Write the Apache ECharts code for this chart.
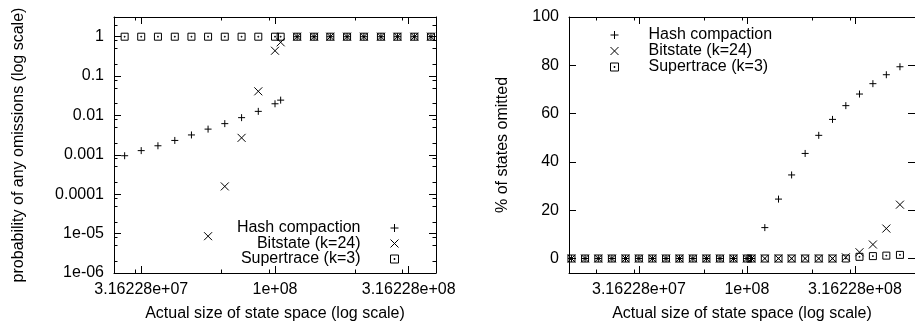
<!DOCTYPE html>
<html>
<head>
<meta charset="utf-8">
<script src="https://cdn.jsdelivr.net/npm/echarts@6/dist/echarts.min.js"></script>
<style>
  html, body { margin: 0; padding: 0; background: #fff; }
  #chart { width: 915px; height: 327px; }
</style>
</head>
<body>
<div id="chart"></div>
<script>
// state space sizes
const sizesLeft = [2.74e7, 3.16e7, 3.65e7, 4.22e7, 4.87e7, 5.62e7, 6.49e7, 7.50e7, 8.66e7, 1.0e8,
  1.05e8, 1.21e8, 1.40e8, 1.61e8, 1.86e8, 2.15e8, 2.49e8, 2.87e8, 3.32e8, 3.83e8];
// probability of any omissions (null = zero, not drawn on log scale)
const probHash = [0.00095, 0.00128, 0.0017, 0.00232, 0.0032, 0.0045, 0.0062, 0.0088, 0.0127, 0.0198,
  0.0245, 1, 1, 1, 1, 1, 1, 1, 1, 1];
const probBit = [null, null, null, null, null, 8.6e-6, 1.58e-4, 0.0027, 0.041, 0.44,
  0.72, 1, 1, 1, 1, 1, 1, 1, 1, 1];
const probSuper = [1, 1, 1, 1, 1, 1, 1, 1, 1, 1, 1, 1, 1, 1, 1, 1, 1, 1, 1, 1];

// state space sizes
const sizesRight = [1.54e7, 1.78e7, 2.05e7, 2.37e7, 2.74e7, 3.16e7, 3.65e7, 4.22e7, 4.87e7, 5.62e7,
  6.49e7, 7.50e7, 8.66e7, 1.0e8, 1.05e8, 1.21e8, 1.40e8, 1.61e8, 1.86e8, 2.15e8,
  2.49e8, 2.87e8, 3.32e8, 3.83e8, 4.42e8, 5.11e8];
// % of states omitted
const pctHash = [0, 0, 0, 0, 0, 0, 0, 0, 0, 0, 0, 0, 0, 0,
  0, 12.8, 24.6, 34.6, 43.5, 51.0, 57.6, 63.3, 68.1, 72.4, 76.1, 79.4];
const pctBit = [0, 0, 0, 0, 0, 0, 0, 0, 0, 0, 0, 0, 0, 0,
  0, 0, 0, 0, 0, 0, 0, 0.5, 2.6, 5.8, 12.4, 22.3];
const pctSuper = [0, 0, 0, 0, 0, 0, 0, 0, 0, 0, 0, 0, 0, 0,
  0, 0, 0, 0, 0, 0, 0, 0, 0.7, 1.0, 1.2, 1.5];

// tick values and labels
const xMajor = [31622776.6, 1e8, 316227766];
const xMajorLabels = ['3.16228e+07', '1e+08', '3.16228e+08'];
const xMinor = [2e7, 3e7, 6.32e7, 9.49e7, 2e8, 3e8];
const yLogMajor = [1e-6, 1e-5, 1e-4, 1e-3, 1e-2, 1e-1, 1];
const yLogLabels = ['1e-06', '1e-05', '0.0001', '0.001', '0.01', '0.1', '1'];
const yLogMinor = [2e-6, 5e-6, 8e-6, 2e-5, 5e-5, 8e-5, 2e-4, 5e-4, 8e-4, 2e-3, 5e-3, 8e-3,
  0.02, 0.05, 0.08, 0.2, 0.5, 0.8, 2];
const yPctMajor = [0, 20, 40, 60, 80, 100];

const names = ['Hash compaction', 'Bitstate (k=24)', 'Supertrace (k=3)'];
const FONT = 'Liberation Sans, Arial, sans-serif';
const symPlus = 'path://M0,5L10,5M5,0L5,10';
const symCross = 'path://M0,0L10,10M10,0L0,10';
const symSquare = 'path://M0,0L10,0L10,10L0,10ZM4.4,4.4L5.6,4.4L5.6,5.6L4.4,5.6Z';

function closestLabel(values, labels) {
  return function (v) {
    let best = 0;
    for (let i = 1; i < values.length; i++) {
      if (Math.abs(Math.log10(values[i] / v)) < Math.abs(Math.log10(values[best] / v))) best = i;
    }
    return labels[best];
  };
}

// one axis = major ticks, a twin = minor ticks; mirrored on the opposite side
function axisSet(dim, opt) {
  const sides = dim === 'x' ? ['bottom', 'top'] : ['left', 'right'];
  const base = {
    gridIndex: opt.grid, type: opt.type, min: opt.min, max: opt.max,
    splitLine: { show: false }, animation: false
  };
  if (opt.type === 'log') base.logBase = 10;
  const out = [];
  sides.forEach(function (side, s) {
    out.push(Object.assign({}, base, {
      position: side,
      name: s === 0 ? opt.name : '',
      nameLocation: 'middle',
      nameGap: opt.nameGap,
      nameTextStyle: { fontFamily: FONT, fontSize: 16, color: '#000' },
      axisLine: { show: true, onZero: false, lineStyle: { color: '#000', width: 1 } },
      axisTick: { show: true, inside: true, length: 7, customValues: opt.major,
        lineStyle: { color: '#000', width: 1 } },
      axisLabel: { show: s === 0, customValues: opt.major, formatter: opt.formatter,
        margin: opt.margin, fontFamily: FONT, fontSize: 16, color: '#000' }
    }));
    if (opt.minor) {
      out.push(Object.assign({}, base, {
        position: side,
        axisLine: { show: false, onZero: false },
        axisTick: { show: true, inside: true, length: 3.5, customValues: opt.minor,
          lineStyle: { color: '#000', width: 1 } },
        axisLabel: { show: false }
      }));
    }
  });
  return out;
}

function pairs(xs, ys) {
  return xs.map(function (x, i) { return [x, ys[i]]; });
}

function scatter(name, symbol, size, data, xi, yi) {
  return {
    type: 'scatter', name: name, symbol: symbol, symbolSize: size,
    xAxisIndex: xi, yAxisIndex: yi, data: data, clip: true,
    itemStyle: { color: 'none', borderColor: '#000', borderWidth: 1, opacity: 1 },
    emphasis: { disabled: true }
  };
}

const chart = echarts.init(document.getElementById('chart'));

const leftX = axisSet('x', { grid: 0, type: 'log', min: 2.5e7, max: 4e8, major: xMajor,
  minor: xMinor, formatter: closestLabel(xMajor, xMajorLabels), margin: 9,
  name: 'Actual size of state space (log scale)', nameGap: 33 });
const rightX = axisSet('x', { grid: 1, type: 'log', min: 1.5e7, max: 6e8, major: xMajor,
  minor: xMinor, formatter: closestLabel(xMajor, xMajorLabels), margin: 9,
  name: 'Actual size of state space (log scale)', nameGap: 33 });
const leftY = axisSet('y', { grid: 0, type: 'log', min: 1e-6, max: 3.1623, major: yLogMajor,
  minor: yLogMinor, formatter: closestLabel(yLogMajor, yLogLabels), margin: 10,
  name: 'probability of any omissions (log scale)', nameGap: 87 });
const rightY = axisSet('y', { grid: 1, type: 'value', min: -6, max: 100, major: yPctMajor,
  formatter: function (v) { return String(v); }, margin: 10,
  name: '% of states omitted', nameGap: 58 });

const xAxes = leftX.concat(rightX);
const yAxes = leftY.concat(rightY);
const rxi = leftX.length, ryi = leftY.length;

const legendText = { fontFamily: FONT, fontSize: 16, color: '#000', lineHeight: 16 };
const legendItem = { color: 'none', borderColor: '#000', borderWidth: 1 };

const option = {
  animation: false,
  backgroundColor: '#fff',
  textStyle: { fontFamily: FONT, color: '#000' },
  grid: [
    { left: 114, top: 17, width: 322, height: 258 },
    { left: 569, top: 17, width: 353, height: 258 }
  ],
  xAxis: xAxes,
  yAxis: yAxes,
  legend: [
    {
      orient: 'vertical', align: 'right', right: 514, top: 220, padding: 0,
      itemWidth: 58, itemHeight: 8, itemGap: -0.5, data: names,
      textStyle: legendText, itemStyle: legendItem, selectedMode: false
    },
    {
      orient: 'vertical', align: 'left', left: 608, top: 27, padding: 0,
      itemWidth: 58, itemHeight: 8, itemGap: 0, data: names,
      textStyle: legendText, itemStyle: legendItem, selectedMode: false
    }
  ],
  series: [
    scatter(names[2], symSquare, 7, pairs(sizesLeft, probSuper), 0, 0),
    scatter(names[1], symCross, 8, pairs(sizesLeft, probBit), 0, 0),
    scatter(names[0], symPlus, 7, pairs(sizesLeft, probHash), 0, 0),
    scatter(names[2], symSquare, 7, pairs(sizesRight, pctSuper), rxi, ryi),
    scatter(names[1], symCross, 8, pairs(sizesRight, pctBit), rxi, ryi),
    scatter(names[0], symPlus, 7, pairs(sizesRight, pctHash), rxi, ryi)
  ]
};
chart.setOption(option);
</script>
</body>
</html>
